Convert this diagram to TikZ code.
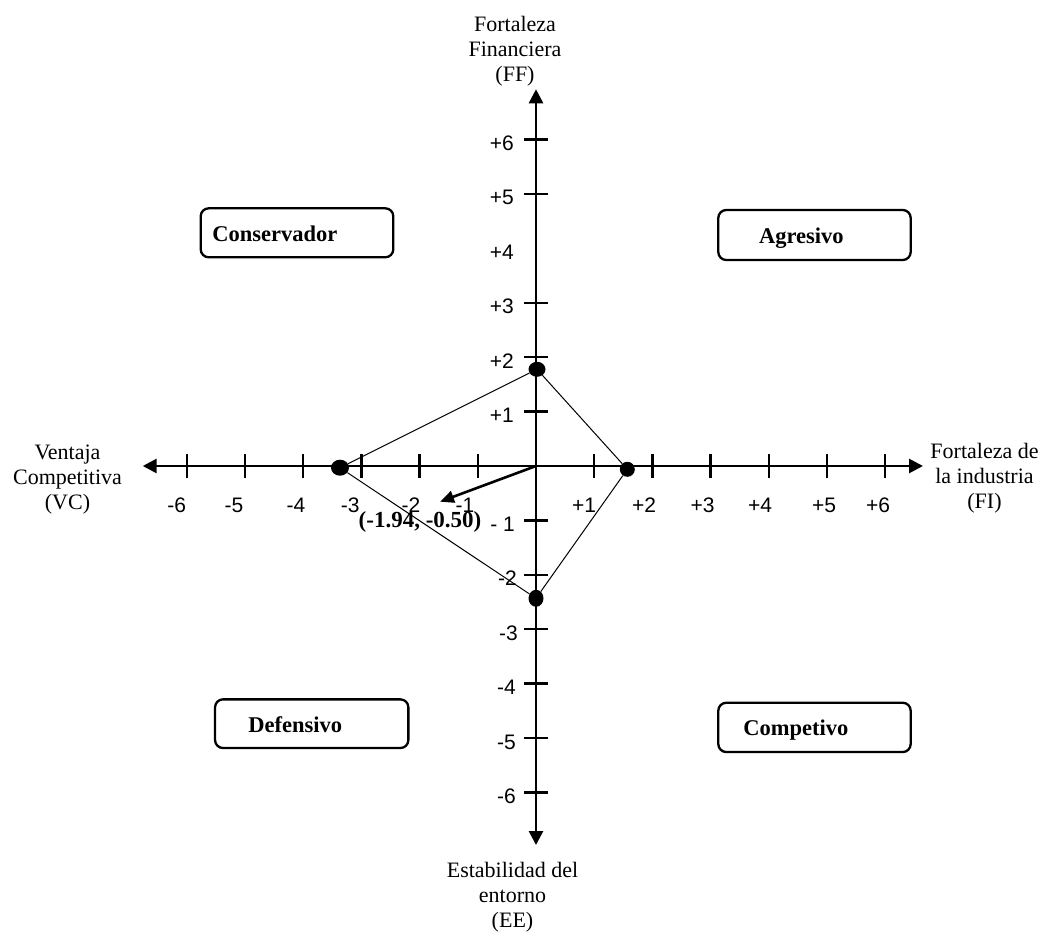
\documentclass[tikz,border=0pt]{standalone}
\usepackage{fontspec}
\setmainfont{Liberation Serif}
\newfontfamily\ticksans{Liberation Sans}
\usetikzlibrary{arrows.meta,shapes.geometric}
% centred multi-line text whose baseline is that of its first line
\newcommand\stacklines[1]{\begin{tabular}[t]{@{}c@{}}#1\end{tabular}}

\begin{document}
\begin{tikzpicture}[x=1pt,y=-1pt,
  axisline/.style={line width=2.7pt, {Triangle[length=14pt,width=14pt]}-{Triangle[length=14pt,width=14pt]}},
  tickmark/.style={line width=2.5pt},
  ticklabel/.style={font=\ticksans\fontsize{21}{25}\selectfont, inner sep=0pt},
  axistitle/.style={font=\fontsize{22}{25}\selectfont, inner sep=0pt, anchor=base},
  quadbox/.style={draw, line width=2.3pt, rounded corners=8pt, inner xsep=0pt, inner ysep=0pt,
    text height=20pt, text depth=3pt, align=left, font=\bfseries\fontsize{22.5}{25}\selectfont},
  dot/.style={ellipse, fill=black, inner sep=0pt},
  edge/.style={line width=1pt},
  vec/.style={line width=2.6pt, -{Triangle[length=14pt,width=12pt]}},
]
\useasboundingbox (0,0) rectangle (1042,933);

% axes
\coordinate (O) at (536,466);
\coordinate (xl) at (142.7,466);
\coordinate (xr) at (923,466);
\coordinate (yt) at (536,89.3);
\coordinate (yb) at (536,845);
\draw[axisline] (xl) -- (xr);
\draw[axisline] (yt) -- (yb);

% tick marks
\foreach \i in {-6,...,-1,1,2,...,6}
  \draw[tickmark] (536+58.2*\i,454) -- ++(0,24);
\foreach \j in {-6,...,-1,1,2,3,5,6}
  \draw[tickmark] (524,466-54.4*\j) -- ++(24,0);

% tick labels, horizontal axis
\foreach \x/\t/\n in {176.7/-6/a, 234/-5/b, 296/-4/c, 350.3/-3/d, 411/-2/e, 465/-1/f,
                      584/+1/g, 644/+2/h, 702.5/+3/i, 760/+4/j, 824/+5/k, 878/+6/l}
  \node[ticklabel, anchor=base] (xt\n) at (\x,512.5) {\t};

% tick labels, vertical axis
\foreach \v/\t/\n/\r in {6/+6/a/514, 5/+5/b/514, 4/+4/c/514, 3/+3/d/514, 2/+2/e/514, 1/+1/f/514,
                         -1/- 1/g/515, -2/-2/h/517, -3/-3/i/518, -4/-4/j/516, -5/-5/k/516, -6/-6/l/516}
  \node[ticklabel, anchor=base east] (yt\n) at (\r,466-54.4*\v+11) {\t};

% axis titles
\node[axistitle] (ff) at (515,32) {\stacklines{Fortaleza\\Financiera\\(FF)}};
\node[axistitle] (ee) at (512.5,877) {\stacklines{Estabilidad del\\entorno\\(EE)}};
\node[axistitle] (vc) at (67.5,459) {\stacklines{Ventaja\\Competitiva\\(VC)}};
\node[axistitle] (fi) at (984.5,458) {\stacklines{Fortaleza de\\la industria\\(FI)}};

% quadrant boxes
\node[quadbox, minimum width=192.6pt, minimum height=49pt, text width=192.6pt] (cons) at (297,232.8) {\hspace*{11.6pt}Conservador};
\node[quadbox, minimum width=192.4pt, minimum height=50pt, text width=192.4pt] (agre) at (814.5,235) {\hspace*{40.7pt}Agresivo};
\node[quadbox, minimum width=193.3pt, minimum height=48.7pt, text width=193.3pt] (defe) at (311.7,723.7) {\hspace*{33.3pt}Defensivo};
\node[quadbox, minimum width=192.4pt, minimum height=49.3pt, text width=192.4pt] (comp) at (814.5,727.4) {\hspace*{25pt}Competivo};

% polygon of the four factor values
\node[dot, minimum width=17pt, minimum height=15pt] (pf) at (537,369.3) {};
\node[dot, minimum width=18pt, minimum height=16pt] (pv) at (340,467.7) {};
\node[dot, minimum width=15pt, minimum height=15pt] (pi) at (627.3,469.3) {};
\node[dot, minimum width=15pt, minimum height=17pt] (pe) at (536,598.3) {};
\draw[edge] (pv) -- (pf) -- (pi) -- (pe) -- (pv);

% resulting direction vector
\coordinate (V) at (440,501.7);
\draw[vec] (O) -- (V);
\node[font=\bfseries\fontsize{23}{26}\selectfont, anchor=base, inner sep=0pt] (vlab) at (420,527) {(-1.94, -0.50)};
\end{tikzpicture}
\end{document}
